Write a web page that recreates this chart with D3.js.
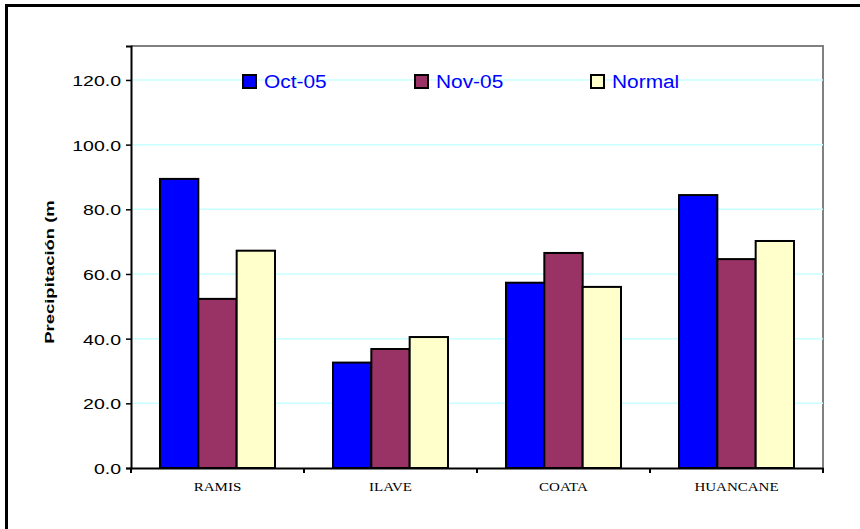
<!DOCTYPE html>
<html>
<head>
<meta charset="utf-8">
<script src="https://cdn.jsdelivr.net/npm/d3@7"></script>
<style>
  html, body { margin: 0; padding: 0; background: #fff; }
  svg { display: block; }
</style>
</head>
<body>
<svg id="chart" width="860" height="529"></svg>
<script>
const categories = ["RAMIS", "ILAVE", "COATA", "HUANCANE"];
const seriesNames = ["Oct-05", "Nov-05", "Normal"];
const oct05 = [89.4, 32.6, 57.3, 84.4];
const nov05 = [52.3, 36.8, 66.5, 64.6];
const normal = [67.2, 40.5, 56.0, 70.2];
const yTicks = [0, 20, 40, 60, 80, 100, 120];
const colors = ["#0000ff", "#993366", "#ffffcc"];
const yTitle = "Precipitación (m";

const values = [oct05, nov05, normal];
const svg = d3.select("#chart");

// outer frame
svg.append("path")
  .attr("d", "M6.5,540 L6.5,5.5 L870,5.5")
  .attr("fill", "none").attr("stroke", "#000").attr("stroke-width", 3);

const L = 131, R = 823, T = 46, B = 468;

const x0 = d3.scaleBand().domain(categories).range([L, R]);
const x1 = d3.scaleBand().domain(seriesNames)
  .range([x0.bandwidth() * 0.1676, x0.bandwidth() * 0.8324]);
const y = d3.scaleLinear().domain([0, 130.5]).range([B, T]);

// plot frame (top/right gray)
svg.append("path")
  .attr("d", `M${L},${T} L${R},${T} L${R},${B}`)
  .attr("fill", "none").attr("stroke", "#808080").attr("stroke-width", 2);

// gridlines
svg.append("g").selectAll("line").data(yTicks.filter(d => d > 0)).join("line")
  .attr("x1", L).attr("x2", R)
  .attr("y1", d => y(d)).attr("y2", d => y(d))
  .attr("stroke", "#c8ffff").attr("stroke-width", 1.5);

// bars
const groups = svg.append("g").selectAll("g").data(categories).join("g")
  .attr("transform", d => `translate(${x0(d)},0)`);
groups.selectAll("rect")
  .data((c, i) => seriesNames.map((s, j) => ({ s, v: values[j][i], j })))
  .join("rect")
  .attr("x", d => x1(d.s))
  .attr("width", x1.bandwidth())
  .attr("y", d => y(d.v))
  .attr("height", d => B - y(d.v))
  .attr("fill", d => colors[d.j])
  .attr("stroke", "#000").attr("stroke-width", 2);

// y axis
const yAxis = svg.append("g").attr("transform", `translate(${L},0)`)
  .call(d3.axisLeft(y).tickValues(yTicks).tickFormat(d3.format(".1f")).tickSize(5).tickPadding(5));
yAxis.select(".domain").attr("stroke", "#000").attr("stroke-width", 2);
yAxis.selectAll(".tick line").attr("stroke", "#000").attr("stroke-width", 1.5);
yAxis.selectAll(".tick text")
  .attr("font-family", "Arial, 'Liberation Sans', sans-serif")
  .attr("font-size", 15).attr("fill", "#000")
  .attr("x", null).attr("dy", null)
  .attr("transform", "translate(-10,5.5) scale(1.3,1)");

// x axis
const xAxis = svg.append("g").attr("transform", `translate(0,${B})`)
  .call(d3.axisBottom(x0).tickSize(0).tickPadding(0));
xAxis.select(".domain").attr("stroke", "#000").attr("stroke-width", 2);
xAxis.selectAll(".tick text")
  .attr("font-family", "'Times New Roman', 'Liberation Serif', serif")
  .attr("font-size", 12).attr("fill", "#000")
  .attr("y", null).attr("dy", null)
  .attr("transform", "translate(0,23) scale(1.25,1)");
// boundary ticks
const boundaries = categories.map(c => x0(c)).concat([x0.range()[1]]);
svg.append("g").selectAll("line").data(boundaries).join("line")
  .attr("x1", d => d).attr("x2", d => d)
  .attr("y1", B).attr("y2", B + 5)
  .attr("stroke", "#000").attr("stroke-width", 2);

// y title
svg.append("text")
  .attr("transform", "translate(53.5,272) rotate(-90) scale(1.42,1)")
  .attr("text-anchor", "middle")
  .attr("font-family", "Arial, 'Liberation Sans', sans-serif")
  .attr("font-weight", "bold").attr("font-size", 13)
  .text(yTitle);

// legend
const legendX = [243, 415, 591];
const leg = svg.append("g").selectAll("g").data(seriesNames).join("g")
  .attr("transform", (d, i) => `translate(${legendX[i]},75)`);
leg.append("rect").attr("x", 0).attr("y", 0).attr("width", 13).attr("height", 13)
  .attr("fill", (d, i) => colors[i]).attr("stroke", "#000").attr("stroke-width", 2);
leg.append("text")
  .attr("transform", "translate(21,12.5) scale(1.16,1)")
  .attr("font-family", "Arial, 'Liberation Sans', sans-serif")
  .attr("font-size", 18).attr("fill", "#0000ff")
  .text(d => d);
</script>
</body>
</html>
